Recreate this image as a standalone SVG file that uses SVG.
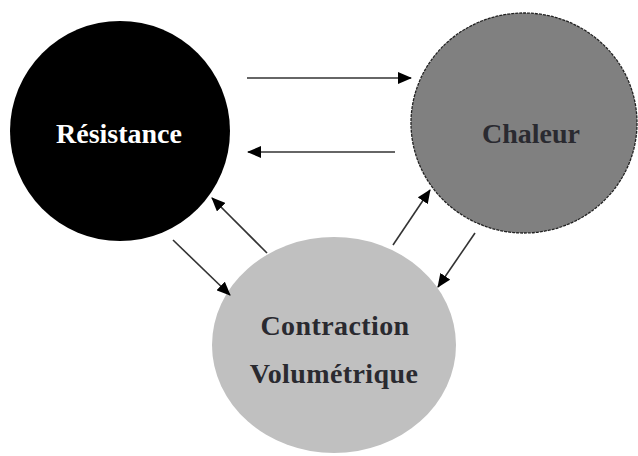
<svg xmlns="http://www.w3.org/2000/svg" width="638" height="456" viewBox="0 0 638 456">
<style>
.lbl{font-family:"Liberation Serif","Times New Roman",serif;font-weight:bold;font-size:28px;text-anchor:middle}
.sp{letter-spacing:0.4px}
.conn{stroke:#333;stroke-width:1.6;fill:none;marker-end:url(#ah)}
</style>
<defs>
<marker id="ah" markerUnits="userSpaceOnUse" markerWidth="14" markerHeight="12" refX="13" refY="6" orient="auto">
<path d="M0,0 L14,6 L0,12 Z" fill="#000"/>
</marker>
</defs>
<rect width="638" height="456" fill="#fff"/>
<g id="resistance">
<circle cx="120" cy="131" r="110" fill="#000"/>
<text class="lbl" x="119" y="143" fill="#fff">Résistance</text>
</g>
<g id="chaleur">
<ellipse cx="524" cy="123" rx="113" ry="110" fill="#808080" stroke="#222" stroke-width="1.3" stroke-dasharray="3 1"/>
<text class="lbl" x="531" y="143" fill="#2a2a30">Chaleur</text>
</g>
<g id="contraction">
<ellipse cx="334" cy="345" rx="122" ry="108" fill="#c0c0c0"/>
<text class="lbl sp" x="335" y="335" fill="#2a2a30">Contraction</text>
<text class="lbl sp" x="334" y="383" fill="#2a2a30">Volumétrique</text>
</g>
<g id="connectors">
<line class="conn" x1="247" y1="78" x2="411" y2="78"/>
<line class="conn" x1="395" y1="152" x2="248" y2="152"/>
<line class="conn" x1="267" y1="253" x2="212" y2="198"/>
<line class="conn" x1="173" y1="240" x2="230" y2="295"/>
<line class="conn" x1="393" y1="245" x2="430" y2="190"/>
<line class="conn" x1="475" y1="233" x2="438" y2="287"/>
</g>
</svg>
